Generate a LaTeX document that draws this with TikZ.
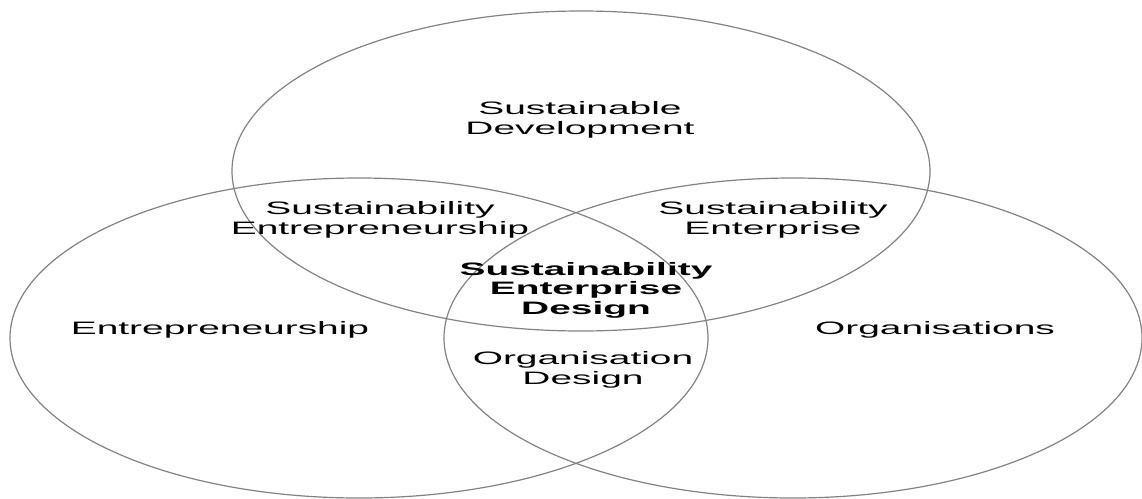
\documentclass[tikz,border=0pt]{standalone}
\usepackage{fontspec}
\setmainfont{Liberation Sans}
\begin{document}
\begin{tikzpicture}[x=1pt,y=-1pt,
  ring/.style={draw={rgb,255:red,130;green,130;blue,130}, line width=1.2pt},
  lbl/.style={inner sep=0pt, align=center, xscale=2.16,
    font=\fontsize{18}{20.5}\selectfont, text=black},
  blbl/.style={lbl, font=\fontsize{18}{19.5}\selectfont\bfseries}]
\useasboundingbox (0,0) rectangle (1142,498);
\clip (0,0) rectangle (1142,498);
\draw[ring] (581,171) ellipse [x radius=349, y radius=160];
\draw[ring] (359,338) ellipse [x radius=349, y radius=160];
\draw[ring] (793,338) ellipse [x radius=349, y radius=160];
\node[lbl] (sd) at (580,120) {Sustainable\\Development};
\node[lbl] (sent) at (380,220) {Sustainability\\Entrepreneurship};
\node[lbl] (sentp) at (773,220) {Sustainability\\Enterprise};
\node[blbl] (sed) at (586,290) {Sustainability\\Enterprise\\Design};
\node[lbl] (ent) at (220,330) {Entrepreneurship};
\node[lbl] (org) at (935,330) {Organisations};
\node[lbl] (od) at (583,370) {Organisation\\Design};
\end{tikzpicture}
\end{document}
